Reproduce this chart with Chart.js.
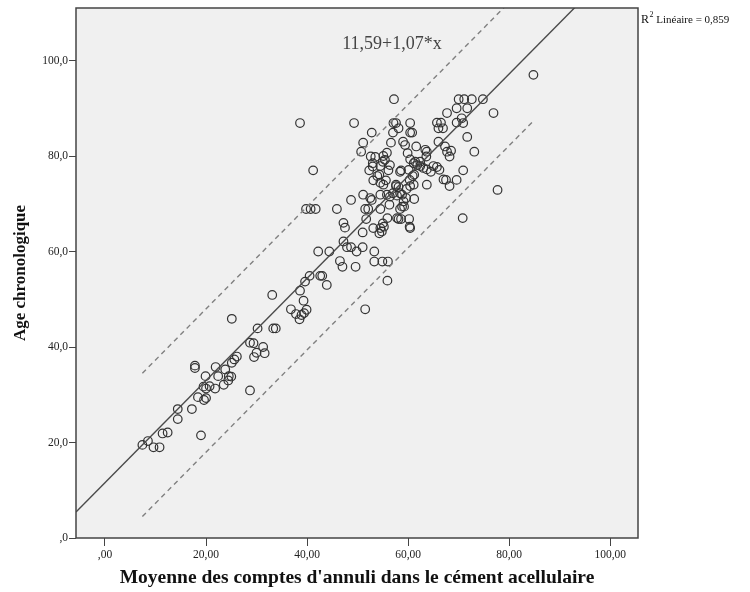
<!DOCTYPE html>
<html><head><meta charset="utf-8">
<script src="https://cdn.jsdelivr.net/npm/chart.js@4/dist/chart.umd.min.js"></script>
<style>html,body{margin:0;padding:0;background:#fff;}#wrap{width:750px;height:592px;}</style>
</head><body><div id="wrap"><canvas id="c" width="750" height="592"></canvas></div>
<script>
// Data
const X_VALUES = [7.4,8.5,9.6,10.8,11.4,12.4,19.0,14.4,14.4,17.2,
17.8,17.8,19.9,21.9,22.4,18.4,19.5,20.0,20.7,19.6,
20.0,21.8,23.5,23.8,24.5,25.0,24.4,25.1,25.6,26.1,
28.7,28.7,29.4,31.3,30.0,31.6,29.5,25.1,30.2,33.3,
33.8,33.1,36.8,37.8,38.5,38.9,39.4,39.9,39.3,38.6,
39.6,43.9,40.5,42.6,43.0,42.2,44.4,46.5,47.0,49.6,
47.2,47.9,48.7,49.8,51.0,53.3,53.3,54.9,56.0,55.9,
51.5,47.2,47.5,39.8,40.7,41.7,45.9,41.2,38.6,49.3,
51.0,53.1,54.5,55.2,55.0,55.9,54.3,54.8,58.1,58.6,
60.2,60.4,51.5,52.1,51.1,48.7,52.8,51.7,53.1,53.9,
54.5,55.1,55.6,52.3,53.0,54.5,56.1,58.6,63.7,65.0,
65.7,63.7,64.5,57.2,70.0,71.1,72.6,74.8,76.9,69.6,
71.7,67.7,70.6,69.6,70.9,65.7,66.5,66.9,71.7,73.1,
77.7,70.8,70.9,69.6,57.1,57.6,60.4,58.1,60.4,60.8,
52.8,57.0,51.1,50.7,56.6,59.0,59.4,52.6,53.5,55.1,
55.8,55.4,59.9,60.4,61.6,63.7,63.4,66.0,67.3,67.7,
68.5,68.2,61.1,61.8,62.4,66.2,67.0,67.5,68.2,60.4,
60.3,60.9,52.5,54.5,55.8,57.0,57.8,58.8,61.2,58.8,
57.6,57.8,60.3,58.4,59.2,56.3,54.5,53.0,55.0,56.4,
54.3,57.6,58.1,59.7,61.1,56.4,58.4,59.1,59.6,61.2,
62.4,61.4,63.6,60.1,63.0,58.4,66.0,84.8];
const Y_VALUES = [19.5,20.3,19.0,19.0,21.9,22.1,21.5,27.0,24.9,27.0,
35.6,36.1,33.9,35.8,33.9,29.5,31.7,31.3,31.8,28.9,
29.3,31.3,32.1,35.3,33.9,33.8,33.0,36.7,37.4,38.0,
30.9,40.9,40.8,40.0,38.8,38.7,37.9,45.9,43.9,43.9,
43.9,50.9,47.9,46.9,45.8,46.7,47.1,47.8,49.7,51.8,
53.7,53.0,54.9,54.9,54.9,60.0,60.0,58.0,56.8,56.8,
62.1,60.9,60.9,60.0,60.9,60.0,57.9,57.9,57.9,53.9,
47.9,66.0,65.0,68.9,68.9,68.9,68.9,77.0,86.9,86.9,
64.0,64.9,64.9,65.2,65.9,67.0,63.8,64.2,66.8,66.8,
66.8,64.9,68.9,68.9,71.9,70.8,70.8,66.8,74.9,75.8,
74.4,74.0,74.9,77.0,77.8,77.9,77.0,77.0,74.0,77.9,
77.7,77.2,76.7,91.9,91.9,91.9,91.9,91.9,89.0,90.0,
90.0,89.0,87.9,87.0,86.9,87.0,87.0,85.8,84.0,80.9,
72.9,67.0,77.0,75.0,86.9,86.9,86.9,85.8,84.9,84.9,
84.9,84.9,82.8,80.9,82.8,83.0,82.3,79.9,79.8,80.0,
80.7,79.2,80.6,79.3,82.0,80.9,81.3,83.0,82.0,80.9,
81.1,79.9,78.5,78.1,77.9,77.1,75.1,75.0,73.7,73.7,
75.0,75.8,71.2,71.9,71.9,72.2,71.7,71.9,71.0,69.4,
73.7,67.0,65.2,68.9,69.4,69.8,68.9,78.5,78.8,78.1,
76.1,74.0,73.5,73.1,74.0,71.5,72.2,70.5,71.2,76.1,
78.8,78.8,79.9,77.1,77.5,76.7,85.8,97.0];

const X_TICKS = [0, 20, 40, 60, 80, 100];
const X_TICK_LABELS = [',00', '20,00', '40,00', '60,00', '80,00', '100,00'];
const Y_TICKS = [0, 20, 40, 60, 80, 100];
const Y_TICK_LABELS = [',0', '20,0', '40,0', '60,0', '80,0', '100,0'];

const FIT_INTERCEPT = 11.59;
const FIT_SLOPE = 1.07;
const PRED_HALF_WIDTH = 15.0;
const R2_TEXT = ' Linéaire = 0,859';
const EQ_TEXT = '11,59+1,07*x';
const X_TITLE = "Moyenne des comptes d'annuli dans le cément acellulaire";
const Y_TITLE = 'Age chronologique';

// Axis extents
const X_MIN = -5.74, X_MAX = 105.5, Y_MIN = 0, Y_MAX = 111.0;

const fit = x => FIT_INTERCEPT + FIT_SLOPE * x;
const dataXMin = Math.min(...X_VALUES), dataXMax = Math.max(...X_VALUES);

const points = X_VALUES.map((x, i) => ({x, y: Y_VALUES[i]}));
const fitLine = [{x: X_MIN, y: fit(X_MIN)}, {x: X_MAX, y: fit(X_MAX)}];
const upperBand = [{x: dataXMin, y: fit(dataXMin) + PRED_HALF_WIDTH}, {x: X_MAX, y: fit(X_MAX) + PRED_HALF_WIDTH}];
const lowerBand = [{x: dataXMin, y: fit(dataXMin) - PRED_HALF_WIDTH}, {x: dataXMax, y: fit(dataXMax) - PRED_HALF_WIDTH}];

const SERIF = '"Liberation Serif", "Times New Roman", serif';

const framePlugin = {
  id: 'frame',
  beforeDraw(chart) {
    const {ctx, chartArea: a} = chart;
    ctx.save();
    ctx.fillStyle = '#f0f0f0';
    ctx.fillRect(a.left, a.top, a.right - a.left, a.bottom - a.top);
    ctx.restore();
  },
  afterDraw(chart) {
    const {ctx, chartArea: a, scales} = chart;
    ctx.save();
    ctx.strokeStyle = '#444';
    ctx.lineWidth = 1.5;
    ctx.strokeRect(a.left, a.top, a.right - a.left, a.bottom - a.top);
    ctx.fillStyle = '#444';
    ctx.font = '18px ' + SERIF;
    ctx.textAlign = 'center';
    ctx.textBaseline = 'middle';
    ctx.fillText(EQ_TEXT, scales.x.getPixelForValue(56.8), scales.y.getPixelForValue(103.5));
    ctx.fillStyle = '#111';
    ctx.textAlign = 'left';
    ctx.textBaseline = 'alphabetic';
    let x = a.right + 3, y = a.top + 15;
    ctx.font = '12px ' + SERIF;
    ctx.fillText('R', x, y);
    x += ctx.measureText('R').width;
    ctx.font = '8px ' + SERIF;
    ctx.fillText('2', x + 0.5, y - 6);
    x += ctx.measureText('2').width + 0.5;
    ctx.font = '11px ' + SERIF;
    ctx.fillText(R2_TEXT, x, y);
    ctx.restore();
  }
};

new Chart(document.getElementById('c'), {
  type: 'scatter',
  data: {
    datasets: [
      {type: 'line', data: upperBand, borderColor: '#808080', borderWidth: 1.4, borderDash: [5, 4], pointRadius: 0, fill: false},
      {type: 'line', data: lowerBand, borderColor: '#808080', borderWidth: 1.4, borderDash: [5, 4], pointRadius: 0, fill: false},
      {type: 'line', data: fitLine, borderColor: '#4a4a4a', borderWidth: 1.4, pointRadius: 0, fill: false},
      {data: points, pointRadius: 4.3, pointBorderWidth: 1.2, pointBorderColor: '#333', pointBackgroundColor: 'rgba(0,0,0,0)', showLine: false}
    ]
  },
  options: {
    responsive: false,
    animation: false,
    devicePixelRatio: 1,
    layout: {padding: {left: 0, right: 112, top: 8, bottom: 0}},
    plugins: {legend: {display: false}, tooltip: {enabled: false}},
    scales: {
      x: {
        type: 'linear', min: X_MIN, max: X_MAX,
        afterBuildTicks: s => { s.ticks = X_TICKS.map(v => ({value: v})); },
        afterFit: s => { s.height = 54; },
        border: {display: false},
        grid: {drawOnChartArea: false, drawTicks: true, tickLength: 8, color: '#444', lineWidth: 1},
        ticks: {padding: 2, color: '#222', font: {family: SERIF, size: 11.5},
          callback: (v) => { const i = X_TICKS.indexOf(v); return i >= 0 ? X_TICK_LABELS[i] : ''; }, maxRotation: 0},
        title: {display: true, text: X_TITLE, color: '#111', font: {family: SERIF, size: 19.5, weight: 'bold'}, padding: {top: 4, bottom: 2}}
      },
      y: {
        type: 'linear', min: Y_MIN, max: Y_MAX,
        afterBuildTicks: s => { s.ticks = Y_TICKS.map(v => ({value: v})); },
        afterFit: s => { s.width = 76; },
        border: {display: false},
        grid: {drawOnChartArea: false, drawTicks: true, tickLength: 7, color: '#444', lineWidth: 1},
        ticks: {padding: 1, color: '#222', font: {family: SERIF, size: 11.5},
          callback: (v) => { const i = Y_TICKS.indexOf(v); return i >= 0 ? Y_TICK_LABELS[i] : ''; }},
        title: {display: true, text: Y_TITLE, color: '#111', font: {family: SERIF, size: 17, weight: 'bold'}, padding: {top: 10, bottom: 0}}
      }
    }
  },
  plugins: [framePlugin]
});
</script>
</body></html>
